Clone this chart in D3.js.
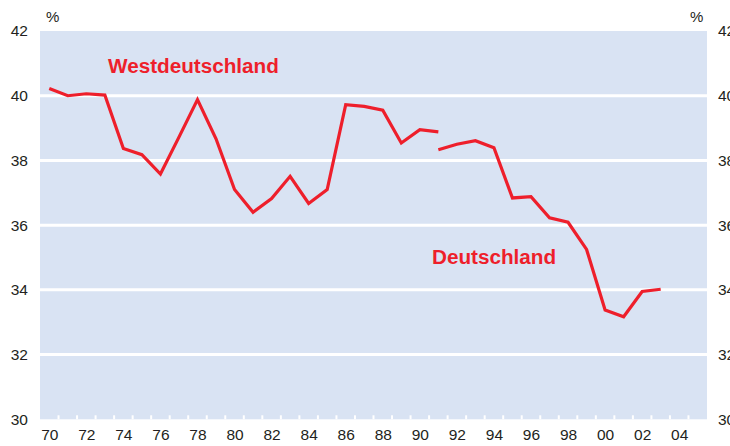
<!DOCTYPE html>
<html><head><meta charset="utf-8">
<script src="https://cdn.jsdelivr.net/npm/d3@7"></script>
<style>body{margin:0;background:#fff}svg{display:block;font-family:"Liberation Sans",Arial,sans-serif}</style>
</head><body><svg id="c" width="730" height="446"></svg>
<script>
const westYears = [1970,1971,1972,1973,1974,1975,1976,1977,1978,1979,1980,1981,1982,1983,1984,1985,1986,1987,1988,1989,1990,1991];
const westValues = [40.22,40.0,40.06,40.02,38.37,38.18,37.58,38.72,39.88,38.67,37.10,36.40,36.82,37.51,36.67,37.10,39.72,39.67,39.55,38.54,38.95,38.88];
const gerYears = [1991,1992,1993,1994,1995,1996,1997,1998,1999,2000,2001,2002,2003];
const gerValues = [38.33,38.50,38.61,38.39,36.84,36.88,36.23,36.09,35.25,33.38,33.17,33.95,34.02];
const yTicks = [30,32,34,36,38,40,42];
const gridValues = [32,34,36,38,40];
const xLabelYears = [1970,1972,1974,1976,1978,1980,1982,1984,1986,1988,1990,1992,1994,1996,1998,2000,2002,2004];
const seriesLabels = ["Westdeutschland","Deutschland"];

const svg = d3.select("#c");
const L = 40, R = 707, T = 31, B = 419.3;
const x = d3.scaleLinear().domain([1970, 2006]).range([L, R]);
const y = d3.scaleLinear().domain([30, 42]).range([B, T]);
const red = "#ee1f2b", txt = "#231f20";

svg.append("rect").attr("x", L).attr("y", T).attr("width", R - L).attr("height", B - T).attr("fill", "#d9e3f3");

svg.append("g").selectAll("line").data(gridValues).join("line")
  .attr("x1", L).attr("x2", R).attr("y1", d => y(d)).attr("y2", d => y(d))
  .attr("stroke", "#fff").attr("stroke-width", 3);

// year boundary ticks
svg.append("g").selectAll("line").data(d3.range(1971, 2006)).join("line")
  .attr("x1", d => x(d)).attr("x2", d => x(d)).attr("y1", B).attr("y2", B - 4)
  .attr("stroke", "#fff").attr("stroke-width", 2);

const xAxis = d3.axisBottom(x).tickValues(xLabelYears.map(d => d + 0.5)).tickSize(0).tickPadding(10)
  .tickFormat(d => String(Math.floor(d) % 100).padStart(2, "0"));
const gx = svg.append("g").attr("transform", `translate(0,${B})`).call(xAxis);
gx.select(".domain").remove();
gx.selectAll("text").attr("font-size", 15.5).attr("fill", txt).attr("font-family", "Liberation Sans, Arial, sans-serif");

const gl = svg.append("g").attr("transform", `translate(${L},0)`).call(d3.axisLeft(y).tickValues(yTicks).tickSize(0).tickPadding(12));
const gr = svg.append("g").attr("transform", `translate(${R},0)`).call(d3.axisRight(y).tickValues(yTicks).tickSize(0).tickPadding(11));
[gl, gr].forEach(g => {
  g.select(".domain").remove();
  g.selectAll("text").attr("font-size", 15.5).attr("fill", txt).attr("font-family", "Liberation Sans, Arial, sans-serif");
});

svg.append("text").attr("x", 46).attr("y", 22).attr("font-size", 15).attr("fill", txt).text("%");
svg.append("text").attr("x", 690).attr("y", 22).attr("font-size", 15).attr("fill", txt).text("%");

const line = d3.line().x(d => x(d[0] + 0.5)).y(d => y(d[1]));
svg.append("path").datum(d3.zip(westYears, westValues)).attr("d", line)
  .attr("fill", "none").attr("stroke", red).attr("stroke-width", 3.2).attr("stroke-linejoin", "miter");
svg.append("path").datum(d3.zip(gerYears, gerValues)).attr("d", line)
  .attr("fill", "none").attr("stroke", red).attr("stroke-width", 3.2).attr("stroke-linejoin", "miter");

svg.append("text").attr("x", 108).attr("y", 73).attr("font-size", 20.7).attr("font-weight", "bold").attr("fill", red).text(seriesLabels[0]);
svg.append("text").attr("x", 432).attr("y", 264).attr("font-size", 20.7).attr("font-weight", "bold").attr("fill", red).text(seriesLabels[1]);
</script></body></html>
